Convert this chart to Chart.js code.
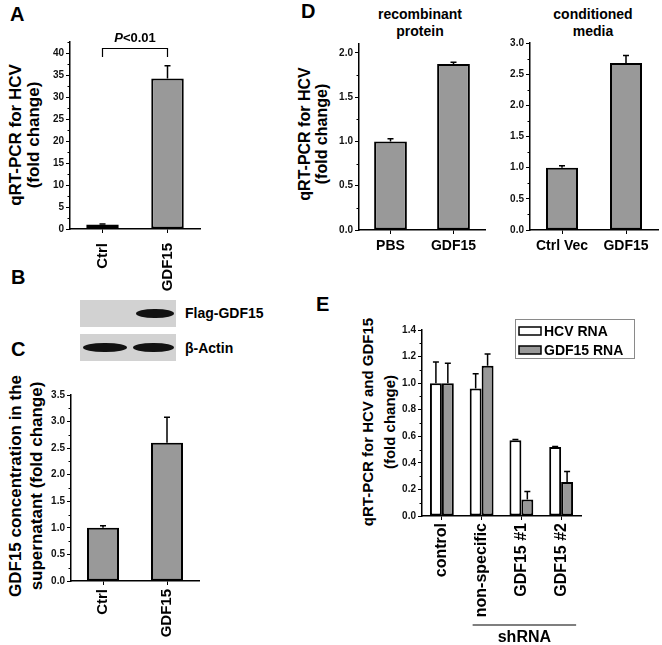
<!DOCTYPE html>
<html>
<head>
<meta charset="utf-8">
<script src="https://cdn.jsdelivr.net/npm/chart.js@4.4.1/dist/chart.umd.min.js"></script>
<style>
    html, body { margin: 0; padding: 0; background: #fff; }
    #fig { position: relative; width: 662px; height: 645px; overflow: hidden; font-family: 'Liberation Sans', Arial, sans-serif; font-weight: bold; color: #000; }
    #fig canvas { position: absolute; }
    .txt { position: absolute; white-space: nowrap; line-height: 1; }
    .letter { position: absolute; font-size: 20px; line-height: 1; }
    .vtitle { position: absolute; white-space: nowrap; line-height: 1; transform: translate(-50%, -50%) rotate(-90deg); }
    .htitle { position: absolute; white-space: nowrap; line-height: 1; font-size: 14px; transform: translate(-50%, -50%); }
    .blot { position: absolute; background: #d2d2d2; }
    .band { position: absolute; background: #121212; border-radius: 48% / 50%; filter: blur(0.7px); }
</style>
</head>
<body>
<div id="fig">
    <div class="letter" style="left:10px;top:4px">A</div>
    <div class="letter" style="left:11px;top:267px">B</div>
    <div class="letter" style="left:11px;top:339px">C</div>
    <div class="letter" style="left:301px;top:1px">D</div>
    <div class="letter" style="left:316px;top:294px">E</div>

    <div class="vtitle" style="left:15px;top:135px;font-size:17px">qRT-PCR for HCV</div>
    <div class="vtitle" style="left:33px;top:135px;font-size:17px">(fold change)</div>

    <div class="vtitle" style="left:15px;top:486px;font-size:17px">GDF15 concentration in the</div>
    <div class="vtitle" style="left:36px;top:486px;font-size:17px">supernatant (fold change)</div>

    <div class="vtitle" style="left:305px;top:134px;font-size:16px">qRT-PCR for HCV</div>
    <div class="vtitle" style="left:322px;top:134px;font-size:16px">(fold change)</div>

    <div class="vtitle" style="left:367px;top:422px;font-size:15px">qRT-PCR for HCV and GDF15</div>
    <div class="vtitle" style="left:389px;top:422px;font-size:15px">(fold change)</div>

    <div class="htitle" style="left:420px;top:14px">recombinant</div>
    <div class="htitle" style="left:420px;top:31px">protein</div>
    <div class="htitle" style="left:593px;top:14px">conditioned</div>
    <div class="htitle" style="left:593px;top:31px">media</div>

    <!-- B: western blot -->
    <div class="blot" style="left:80px;top:300px;width:96px;height:27px"></div>
    <div class="band" style="left:136px;top:309px;width:38px;height:9px"></div>
    <div class="blot" style="left:80px;top:334px;width:96px;height:27px"></div>
    <div class="band" style="left:83px;top:343px;width:44px;height:9px"></div>
    <div class="band" style="left:133px;top:343px;width:41px;height:9px"></div>
    <div class="txt" style="left:185px;top:306px;font-size:14px">Flag-GDF15</div>
    <div class="txt" style="left:185px;top:341px;font-size:14px">β-Actin</div>

    <canvas id="chartA" width="185" height="270" style="left:30px;top:25px"></canvas>
    <canvas id="chartC" width="170" height="265" style="left:40px;top:380px"></canvas>
    <canvas id="chartD1" width="165" height="224" style="left:330px;top:36px"></canvas>
    <canvas id="chartD2" width="162" height="227" style="left:500px;top:33px"></canvas>
    <canvas id="chartE" width="250" height="327" style="left:390px;top:318px"></canvas>
</div>

<script>
// ---- data ----
// A: HCV RNA, GDF15 overexpression
const aLabels = ['Ctrl', 'GDF15'];
const aValues = [1.0, 34.2];
const aErrors = [0.15, 2.9];
const aMax = 42.5, aStep = 5;
const aPLabel = 'P<0.01';
const aBracketTop = 41.1, aBracketEnd = 39.1;

// C: secreted GDF15
const cLabels = ['Ctrl', 'GDF15'];
const cValues = [1.0, 2.6];
const cErrors = [0.04, 0.48];
const cMax = 3.5, cStep = 0.5;

// D: recombinant protein / conditioned media
const dProteinLabels = ['PBS', 'GDF15'];
const dProteinValues = [1.0, 1.875];
const dProteinErrors = [0.03, 0.02];
const dProteinMax = 2.1;

const dMediaLabels = ['Ctrl Vec', 'GDF15'];
const dMediaValues = [1.0, 2.68];
const dMediaErrors = [0.03, 0.12];
const dMediaMax = 3.0;
const dStep = 0.5;

// E: shRNA knockdown
const eLabels = ['control', 'non-specific', 'GDF15 #1', 'GDF15 #2'];
const eSeries = ['HCV RNA', 'GDF15 RNA'];
const eHcvValues = [1.0, 0.96, 0.57, 0.52];
const eHcvErrors = [0.16, 0.11, 0.005, 0.003];
const eGdfValues = [1.0, 1.13, 0.125, 0.255];
const eGdfErrors = [0.15, 0.09, 0.06, 0.08];
const eMax = 1.4, eStep = 0.2;
const eGroupLabel = 'shRNA';

// ---- styling ----
const FONT = "'Liberation Sans', Arial, sans-serif";
const BAR_GRAY = '#999999';

// error bars (upper half only)
const errorBars = {
    id: 'errorBars',
    afterDatasetsDraw(chart) {
        const ctx = chart.ctx;
        const y = chart.scales.y;
        chart.data.datasets.forEach((ds, i) => {
            if (!ds.errors) return;
            chart.getDatasetMeta(i).data.forEach((bar, j) => {
                const err = ds.errors[j];
                if (!err) return;
                const top = y.getPixelForValue(ds.data[j] + err);
                ctx.save();
                ctx.strokeStyle = '#000';
                ctx.lineWidth = 1.5;
                ctx.beginPath();
                ctx.moveTo(bar.x, bar.y);
                ctx.lineTo(bar.x, top);
                ctx.moveTo(bar.x - 3, top);
                ctx.lineTo(bar.x + 3, top);
                ctx.stroke();
                ctx.restore();
            });
        });
    }
};

// short ticks between the labelled ones
const minorTicks = {
    id: 'minorTicks',
    afterDraw(chart, args, opts) {
        const y = chart.scales.y;
        const ctx = chart.ctx;
        ctx.save();
        ctx.strokeStyle = '#000';
        ctx.lineWidth = 1;
        for (let v = opts.step; v <= y.max + 1e-9; v += opts.step * 2) {
            const py = Math.round(y.getPixelForValue(v)) + 0.5;
            ctx.beginPath();
            ctx.moveTo(y.right - 2.5, py);
            ctx.lineTo(y.right, py);
            ctx.stroke();
        }
        ctx.restore();
    }
};

// significance bracket for panel A
const bracket = {
    id: 'bracket',
    afterDraw(chart, args, opts) {
        const ctx = chart.ctx;
        const x = chart.scales.x, y = chart.scales.y;
        const x0 = x.getPixelForValue(0), x1 = x.getPixelForValue(1);
        const yt = Math.round(y.getPixelForValue(opts.top)) + 0.5;
        const ye = y.getPixelForValue(opts.end);
        ctx.save();
        ctx.strokeStyle = '#000';
        ctx.lineWidth = 1.2;
        ctx.beginPath();
        ctx.moveTo(x0, ye);
        ctx.lineTo(x0, yt);
        ctx.lineTo(x1, yt);
        ctx.lineTo(x1, ye);
        ctx.stroke();

        // italic P, upright rest
        const italic = 'italic bold 13px ' + FONT;
        const plain = 'bold 13px ' + FONT;
        const head = opts.label.charAt(0), rest = opts.label.slice(1);
        ctx.font = italic;
        const w1 = ctx.measureText(head).width;
        ctx.font = plain;
        const w2 = ctx.measureText(rest).width;
        const start = (x0 + x1) / 2 - (w1 + w2) / 2;
        const ty = yt - 10;
        ctx.fillStyle = '#000';
        ctx.textBaseline = 'middle';
        ctx.textAlign = 'left';
        ctx.font = italic;
        ctx.fillText(head, start, ty);
        ctx.font = plain;
        ctx.fillText(rest, start + w1, ty);
        ctx.restore();
    }
};

// framed legend inside panel E
const boxLegend = {
    id: 'boxLegend',
    afterDraw(chart, args, opts) {
        const ctx = chart.ctx;
        ctx.save();
        ctx.strokeStyle = '#8a8a8a';
        ctx.lineWidth = 1;
        ctx.strokeRect(opts.x + 0.5, opts.y + 0.5, opts.w, opts.h);
        chart.data.datasets.forEach((ds, i) => {
            const rowY = opts.y + opts.rowTop + i * opts.rowGap;
            ctx.fillStyle = ds.backgroundColor;
            ctx.fillRect(opts.x + 4, rowY - 4, 22, 8);
            ctx.strokeStyle = '#000';
            ctx.lineWidth = 1.5;
            ctx.strokeRect(opts.x + 4, rowY - 4, 22, 8);
            ctx.fillStyle = '#000';
            ctx.font = 'bold 14px ' + FONT;
            ctx.textBaseline = 'middle';
            ctx.fillText(ds.label, opts.x + 29, rowY + 1);
        });
        ctx.restore();
    }
};

// underline + caption for grouped categories
const groupLabel = {
    id: 'groupLabel',
    afterDraw(chart, args, opts) {
        const ctx = chart.ctx;
        const x = chart.scales.x;
        const xa = x.getPixelForValue(opts.from) - 9;
        const xb = x.getPixelForValue(opts.to) + 15;
        ctx.save();
        ctx.strokeStyle = '#555';
        ctx.lineWidth = 1.5;
        ctx.beginPath();
        ctx.moveTo(xa, opts.lineY);
        ctx.lineTo(xb, opts.lineY);
        ctx.stroke();
        ctx.fillStyle = '#000';
        ctx.font = 'bold 16px ' + FONT;
        ctx.textAlign = 'center';
        ctx.textBaseline = 'middle';
        ctx.fillText(opts.label, (xa + xb) / 2, opts.lineY + 13);
        ctx.restore();
    }
};

function decimals(n) {
    return v => v.toFixed(n);
}

// box: canvas rect on page, area: wanted plot area on page
function barChart(id, box, area, cfg) {
    const tickFont = { family: FONT, size: 10, weight: 'bold' };
    const rot = cfg.rotate ? 90 : 0;
    cfg.datasets.forEach(ds => {
        ds.borderColor = '#000';
        ds.borderWidth = 2;
        ds.borderSkipped = false;
        ds.categoryPercentage = cfg.catPct;
        ds.barPercentage = cfg.barPct;
    });
    return new Chart(document.getElementById(id), {
        type: 'bar',
        data: { labels: cfg.labels, datasets: cfg.datasets },
        options: {
            responsive: false,
            animation: false,
            layout: {
                padding: {
                    left: 0,
                    top: area.top - box.top,
                    right: box.left + box.width - area.right,
                    bottom: 0
                }
            },
            plugins: Object.assign({
                legend: { display: false },
                tooltip: { enabled: false },
                minorTicks: { step: cfg.step / 2 }
            }, cfg.plugins || {}),
            scales: {
                x: {
                    offset: true,
                    grid: { offset: false, drawOnChartArea: false, tickLength: 4, color: '#000', lineWidth: 1 },
                    border: { color: '#000', width: 1.5 },
                    ticks: {
                        autoSkip: false,
                        minRotation: rot,
                        maxRotation: rot,
                        padding: cfg.labelPad,
                        color: '#000',
                        font: { family: FONT, size: cfg.labelSize, weight: 'bold' }
                    },
                    afterFit: s => { s.height = box.top + box.height - area.bottom; }
                },
                y: {
                    min: 0,
                    max: cfg.max,
                    grid: { drawOnChartArea: false, tickLength: 4, color: '#000', lineWidth: 1 },
                    border: { color: '#000', width: 1.5 },
                    ticks: {
                        stepSize: cfg.step,
                        includeBounds: false,
                        padding: 2,
                        color: '#111',
                        font: tickFont,
                        callback: cfg.format
                    },
                    afterFit: s => { s.width = area.left - box.left; }
                }
            }
        },
        plugins: [errorBars, minorTicks].concat(cfg.extra || [])
    });
}

function grayBars(values, errors) {
    return [{ data: values, errors: errors, backgroundColor: BAR_GRAY }];
}

// A
barChart('chartA',
    { left: 30, top: 25, width: 185, height: 270 },
    { left: 70, right: 200, top: 42, bottom: 229 },
    {
        labels: aLabels, datasets: grayBars(aValues, aErrors),
        max: aMax, step: aStep, format: decimals(0),
        catPct: 1, barPct: 0.5, rotate: true, labelSize: 15, labelPad: 10,
        plugins: { bracket: { top: aBracketTop, end: aBracketEnd, label: aPLabel } },
        extra: [bracket]
    });

// C
barChart('chartC',
    { left: 40, top: 380, width: 170, height: 265 },
    { left: 71, right: 199, top: 395, bottom: 581 },
    {
        labels: cLabels, datasets: grayBars(cValues, cErrors),
        max: cMax, step: cStep, format: decimals(1),
        catPct: 1, barPct: 0.5, rotate: true, labelSize: 15, labelPad: 4
    });

// D, left and right
barChart('chartD1',
    { left: 330, top: 36, width: 165, height: 224 },
    { left: 359, right: 485, top: 44, bottom: 230 },
    {
        labels: dProteinLabels, datasets: grayBars(dProteinValues, dProteinErrors),
        max: dProteinMax, step: dStep, format: decimals(1),
        catPct: 1, barPct: 0.52, rotate: false, labelSize: 14, labelPad: 4
    });

barChart('chartD2',
    { left: 500, top: 33, width: 162, height: 227 },
    { left: 530, right: 658, top: 43, bottom: 230 },
    {
        labels: dMediaLabels, datasets: grayBars(dMediaValues, dMediaErrors),
        max: dMediaMax, step: dStep, format: decimals(1),
        catPct: 1, barPct: 0.5, rotate: false, labelSize: 14, labelPad: 4
    });

// E
const eBox = { left: 390, top: 318, width: 250, height: 327 };
barChart('chartE', eBox,
    { left: 422, right: 581, top: 330, bottom: 516 },
    {
        labels: eLabels,
        datasets: [
            { label: eSeries[0], data: eHcvValues, errors: eHcvErrors, backgroundColor: '#ffffff' },
            { label: eSeries[1], data: eGdfValues, errors: eGdfErrors, backgroundColor: BAR_GRAY }
        ],
        max: eMax, step: eStep, format: decimals(1),
        catPct: 0.6, barPct: 1, rotate: true, labelSize: 16, labelPad: 3,
        plugins: {
            boxLegend: { x: 515 - eBox.left, y: 319 - eBox.top, w: 119, h: 39, rowTop: 12, rowGap: 19 },
            groupLabel: { from: 1, to: 3, lineY: 625 - eBox.top, label: eGroupLabel }
        },
        extra: [boxLegend, groupLabel]
    });
</script>
</body>
</html>
